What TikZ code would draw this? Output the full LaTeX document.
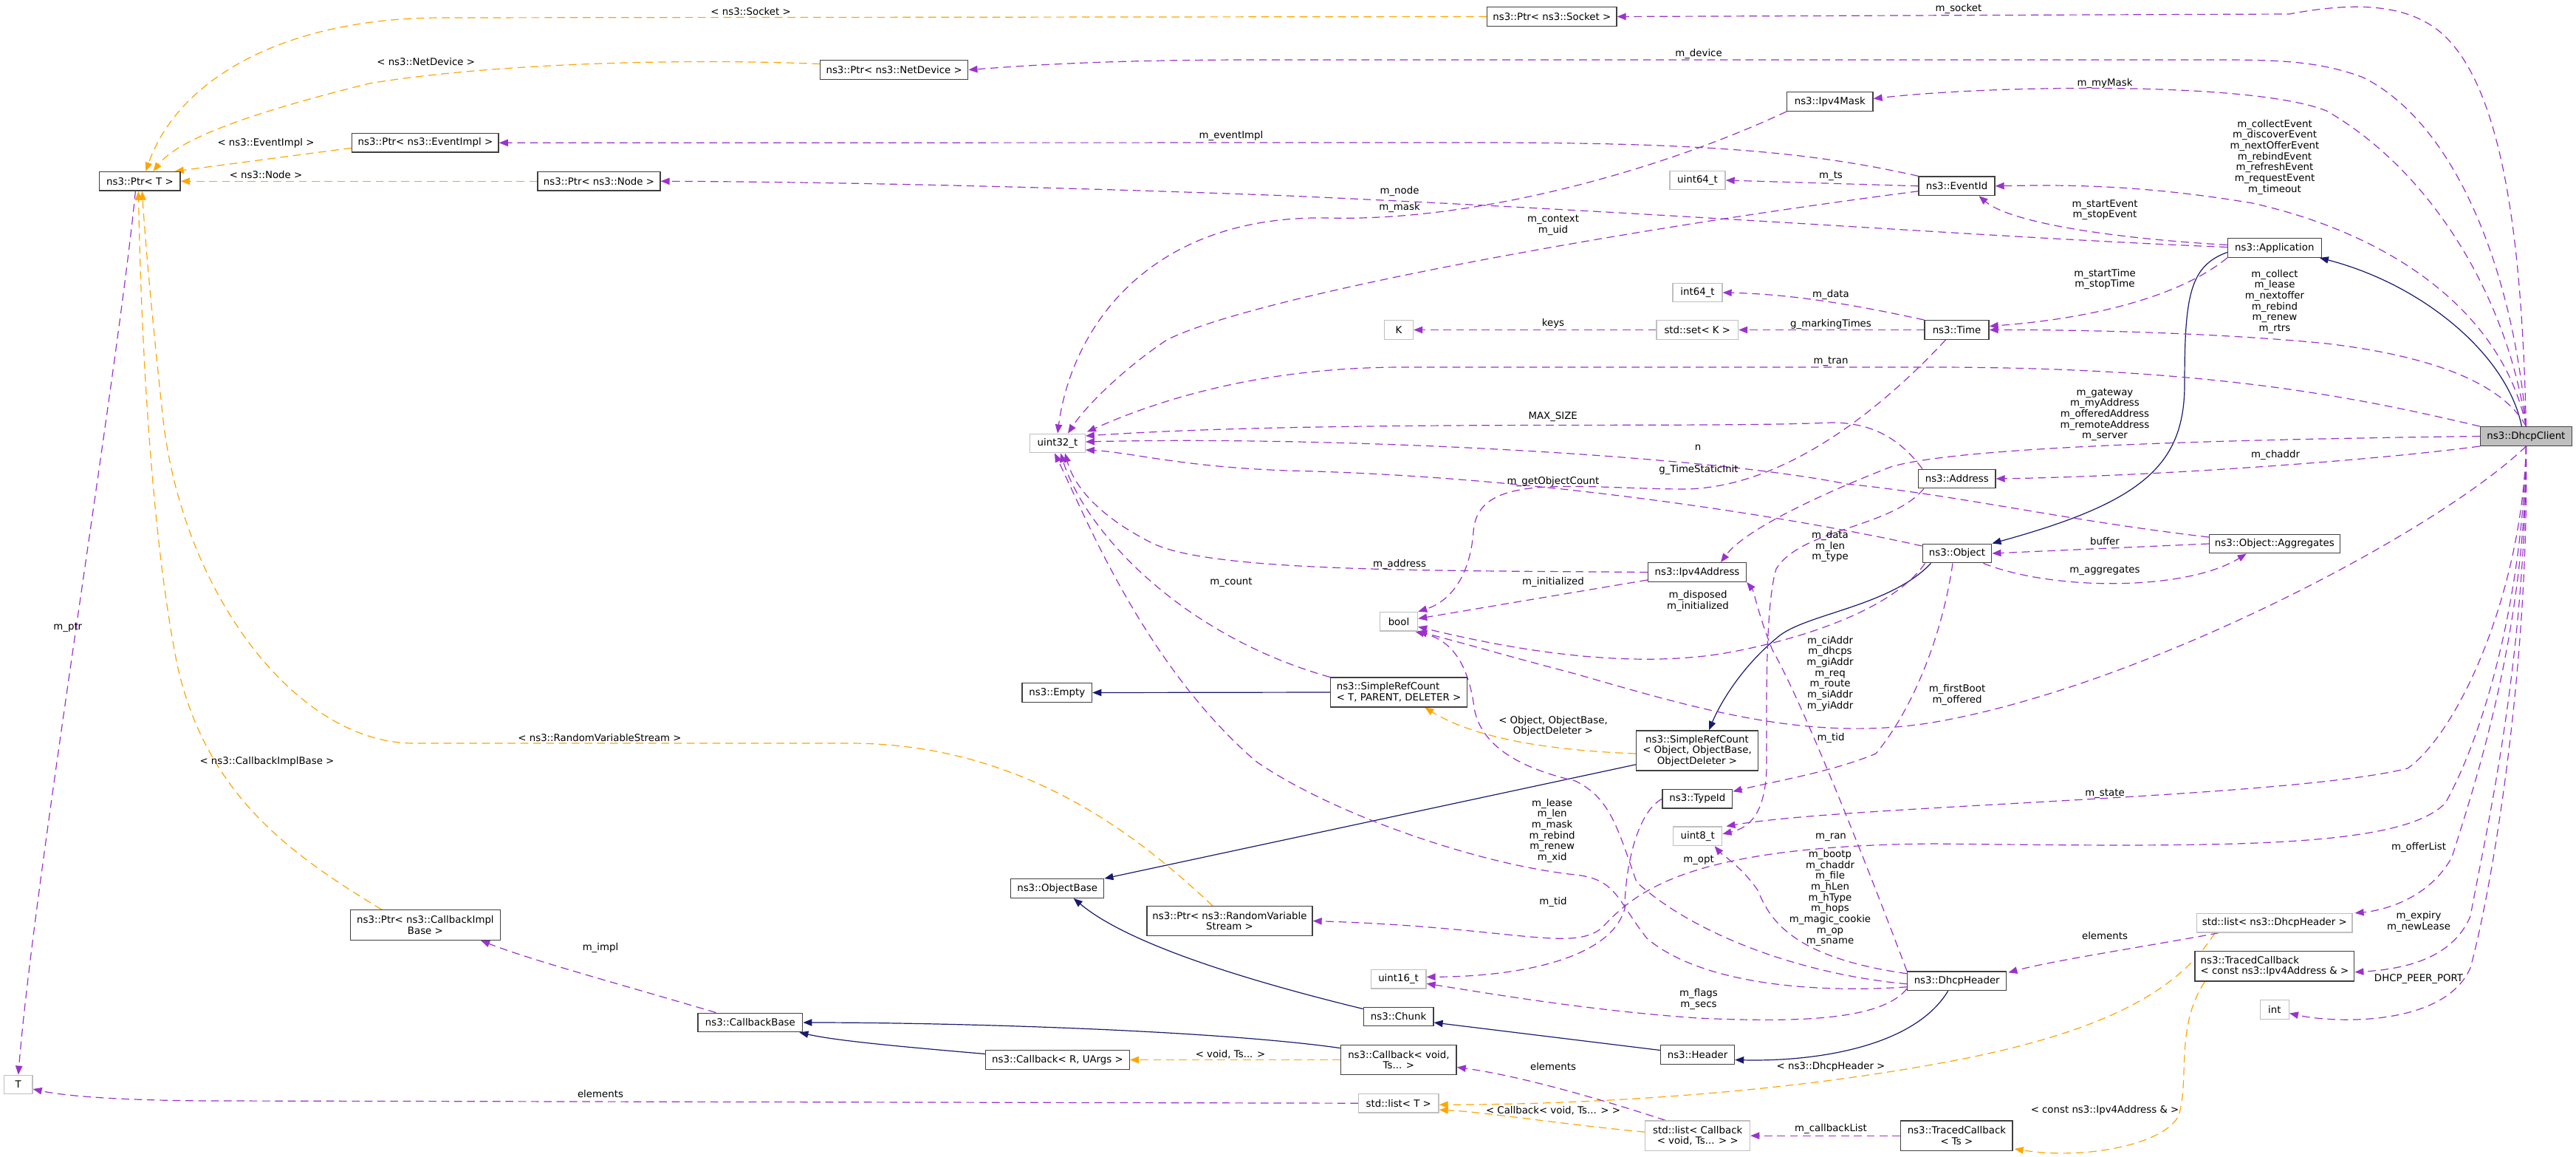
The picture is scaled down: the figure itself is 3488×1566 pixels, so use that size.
\documentclass[tikz,border=0pt]{standalone}
\usepackage{fontspec}
\setmainfont{DejaVu Sans}
\usetikzlibrary{arrows.meta,calc,backgrounds}
\definecolor{usecol}{RGB}{154,50,205}
\definecolor{tplcol}{RGB}{255,165,0}
\definecolor{inhcol}{RGB}{25,25,112}
\definecolor{boxline}{RGB}{64,64,64}
\definecolor{grey75}{RGB}{191,191,191}

\begin{document}
\begin{tikzpicture}[x=0.75pt, y=-0.75pt,
    cls/.style={rectangle, draw=boxline, line width=1pt, fill=white,
        font={\fontsize{10}{11}\selectfont}, minimum height=19.2pt,
        inner xsep=1pt, inner ysep=4.5pt, align=center},
    ext/.style={cls, draw=grey75},
    main/.style={cls, fill=grey75},
    wd/.style={minimum width=#1*0.75pt},
    ht/.style={minimum height=#1*0.75pt},
    lbl/.style={font={\fontsize{10}{11}\selectfont}, inner sep=0pt, align=center},
    uses/.style={-{Triangle[length=9pt,width=7pt]}, usecol, line width=0.9pt,
        dash pattern=on 8pt off 5pt},
    tpl/.style={uses, tplcol},
    inh/.style={-{Triangle[length=9pt,width=7pt]}, inhcol, line width=0.9pt}
]
    \useasboundingbox (0,0) rectangle (3488,1566);

    % classes
    \node[cls, wd=109.5] (ptrT) at (189.4,245.3) {ns3::Ptr< T >};
    \node[cls, wd=198.5] (ptrEventImpl) at (575.9,193.3) {ns3::Ptr< ns3::EventImpl >};
    \node[cls, wd=166] (ptrNode) at (811,245.3) {ns3::Ptr< ns3::Node >};
    \node[cls, wd=200.2] (ptrNetDevice) at (1210.7,94.5) {ns3::Ptr< ns3::NetDevice >};
    \node[cls, wd=175.2] (ptrSocket) at (2101.3,22.5) {ns3::Ptr< ns3::Socket >};
    \node[cls, wd=116.2] (ipv4Mask) at (2477.8,137.5) {ns3::Ipv4Mask};
    \node[ext, wd=75] (uint64) at (2298.5,244) {uint64\_t};
    \node[cls, wd=103] (eventId) at (2649.5,251.8) {ns3::EventId};
    \node[ext, wd=67] (int64) at (2298.5,396) {int64\_t};
    \node[ext, wd=110.5] (setK) at (2298.3,446.5) {std::set< K >};
    \node[ext, wd=39] (paramK) at (1894,446.5) {K};
    \node[cls, wd=87] (time) at (2649.5,446.5) {ns3::Time};
    \node[cls, wd=126.8] (application) at (3079.8,335.5) {ns3::Application};
    \node[ext, wd=74.5] (uint32) at (1432,600) {uint32\_t};
    \node[cls, wd=94.7] (empty) at (1431.3,937.5) {ns3::Empty};
    \node[cls, wd=104.4] (address) at (2649.8,648) {ns3::Address};
    \node[cls, wd=133] (ipv4Address) at (2298,774.5) {ns3::Ipv4Address};
    \node[ext, wd=51] (boolT) at (1894,841.3) {bool};
    \node[cls, wd=93.6] (object) at (2650,749) {ns3::Object};
    \node[cls, wd=185, ht=39.7, align=left] (srcT) at (1894,937) {ns3::SimpleRefCount\\< T, PARENT, DELETER >};
    \node[cls, wd=165, ht=54.3] (srcObj) at (2298,1016) {ns3::SimpleRefCount\\< Object, ObjectBase,\\ObjectDeleter >};
    \node[main, wd=124] (dhcpClient) at (3420.4,590.5) {ns3::DhcpClient};
    \node[cls, wd=176.8] (aggregates) at (3079.8,736) {ns3::Object::Aggregates};
    \node[ext, wd=38.4] (paramT) at (24.8,1468) {T};
    \node[cls, wd=203, ht=40.6] (ptrCBIB) at (575.9,1252) {ns3::Ptr< ns3::CallbackImpl\\Base >};
    \node[cls, wd=126.2] (objectBase) at (1431.7,1202.5) {ns3::ObjectBase};
    \node[cls, wd=224, ht=39.6] (ptrRVS) at (1665,1246.5) {ns3::Ptr< ns3::RandomVariable\\Stream >};
    \node[cls, wd=141.7] (callbackBase) at (1015.9,1384) {ns3::CallbackBase};
    \node[cls, wd=194.6] (callbackRU) at (1432,1434.5) {ns3::Callback< R, UArgs >};
    \node[cls, wd=94.7] (typeId) at (2298.4,1081.3) {ns3::TypeId};
    \node[ext, wd=66.2] (uint8) at (2298.7,1131.8) {uint8\_t};
    \node[ext, wd=74.6] (uint16) at (1893.6,1325.3) {uint16\_t};
    \node[cls, wd=94.6] (chunk) at (1893.6,1376) {ns3::Chunk};
    \node[cls, wd=100] (header) at (2298.5,1427.5) {ns3::Header};
    \node[cls, wd=156.3, ht=40.4] (callbackVoid) at (1893.9,1434.5) {ns3::Callback< void,\\Ts... >};
    \node[ext, wd=108.4] (listT) at (1893.8,1493.2) {std::list< T >};
    \node[ext, wd=141.8, ht=40.3] (listCallback) at (2298.7,1537.2) {std::list< Callback\\< void, Ts... > >};
    \node[cls, wd=134] (dhcpHeader) at (2649.7,1327.8) {ns3::DhcpHeader};
    \node[cls, wd=151.3, ht=40.3] (tracedTs) at (2649.4,1537.2) {ns3::TracedCallback\\< Ts >};
    \node[ext, wd=210.2] (listDhcpHeader) at (3079.8,1249.3) {std::list< ns3::DhcpHeader >};
    \node[cls, wd=215.7, ht=40.3, align=left] (tracedIpv4) at (3079.9,1307.8) {ns3::TracedCallback\\< const ns3::Ipv4Address \& >};
    \node[ext, wd=39] (intT) at (3079.8,1366.5) {int};

    \begin{scope}[on background layer]
    \fill[white] (0,0) rectangle (3488,1566);

    % template arguments
    \draw[tpl] (ptrSocket.west) -- (600,24) .. controls (380,24) and (240,110) .. ($(ptrT.north)+(8,0)$);
    \draw[tpl] ($(ptrNetDevice.west)+(0,-8)$) .. controls (900,78) and (650,88) .. (500,113) .. controls (330,155) and (240,190) .. ($(ptrT.north)+(18,0)$);
    \draw[tpl] ($(ptrEventImpl.west)+(0,7)$) -- ($(ptrT.north east)+(-8,0)$);
    \draw[tpl] (ptrNode.west) -- (ptrT.east);
    \draw[tpl] ($(ptrCBIB.north west)+(43,0)$) .. controls (400,1160) and (280,1080) .. (240,900) .. controls (200,700) and (190,400) .. ($(ptrT.south)+(-2,0)$);
    \draw[tpl] ($(ptrRVS.north)+(-23,0)$) .. controls (1560,1150) and (1400,1006) .. (1150,1006) -- (560,1006) .. controls (400,1006) and (245,800) .. (220,560) .. controls (205,420) and (197,330) .. ($(ptrT.south)+(3,0)$);
    \draw[tpl] (callbackVoid.west) -- (callbackRU.east);
    \draw[tpl] ($(srcObj.west)+(0,4)$) .. controls (2080,1015) and (1990,995) .. ($(srcT.south east)+(-58,0)$);
    \draw[tpl] ($(listDhcpHeader.south west)+(25,0)$) .. controls (2950,1340) and (2850,1400) .. (2616,1441) .. controls (2400,1480) and (2150,1495) .. ($(listT.east)+(0,2)$);
    \draw[tpl] ($(listCallback.west)+(0,-5)$) .. controls (2100,1520) and (2010,1505) .. ($(listT.east)+(0,9)$);
    \draw[tpl] ($(tracedIpv4.south west)+(14,0)$) .. controls (2945,1390) and (2965,1460) .. (2950,1510) .. controls (2930,1550) and (2820,1570) .. ($(tracedTs.south east)+(2,-3)$);

    % inheritance
    \draw[inh] ($(dhcpClient.north)+(-6,0)$) .. controls (3395,480) and (3280,385) .. ($(application.south east)+(-3,0)$);
    \draw[inh] ($(application.west)+(0,6)$) .. controls (2965,360) and (2958,400) .. (2958,520) .. controls (2958,630) and (2900,680) .. (object.north east);
    \draw[inh] ($(object.south west)+(12,0)$) .. controls (2560,820) and (2450,830) .. (2410,860) .. controls (2360,900) and (2330,950) .. ($(srcObj.north)+(16,0)$);
    \draw[inh] (srcT.west) -- (empty.east);
    \draw[inh] ($(srcObj.south west)+(0,-9)$) -- (objectBase.north east);
    \draw[inh] ($(chunk.north west)+(0,3)$) .. controls (1700,1330) and (1530,1280) .. ($(objectBase.south)+(22,0)$);
    \draw[inh] ($(header.west)+(0,-6)$) -- ($(chunk.east)+(0,8)$);
    \draw[inh] ($(dhcpHeader.south)+(-12,0)$) .. controls (2590,1420) and (2450,1437) .. ($(header.east)+(0,7)$);
    \draw[inh] ($(callbackVoid.north west)+(0,5)$) .. controls (1650,1395) and (1300,1384) .. (callbackBase.east);
    \draw[inh] ($(callbackRU.west)+(0,-8)$) .. controls (1200,1415) and (1130,1408) .. ($(callbackBase.south east)+(-5,0)$);

    % members of ns3::DhcpClient
    \draw[uses] (dhcpClient.north) .. controls (3415,330) and (3390,110) .. (3300,40) .. controls (3260,10) and (3200,0) .. (3100,19) -- (ptrSocket.east);
    \draw[uses] (dhcpClient.north) .. controls (3405,380) and (3330,170) .. (3200,105) .. controls (3140,82) and (3080,81) .. (3000,81) -- (1700,81) .. controls (1500,81) and (1400,88) .. (ptrNetDevice.east);
    \draw[uses] (dhcpClient.north) .. controls (3395,400) and (3290,230) .. (3150,150) .. controls (3050,110) and (2700,115) .. ($(ipv4Mask.east)+(0,-4)$);
    \draw[uses] (dhcpClient.north) .. controls (3390,430) and (3250,320) .. (3050,275) .. controls (2900,250) and (2800,250) .. (eventId.east);
    \draw[uses] (dhcpClient.north) .. controls (3395,530) and (3320,485) .. (3150,465) .. controls (3000,450) and (2800,446) .. (time.east);
    \draw[uses] (dhcpClient.north west) .. controls (3200,540) and (3000,497) .. (2616,497) -- (1900,497) .. controls (1700,497) and (1560,545) .. ($(uint32.north east)+(2,-2)$);
    \draw[uses] (dhcpClient.west) .. controls (3000,595) and (2650,605) .. (2560,632) .. controls (2450,675) and (2360,720) .. ($(ipv4Address.north)+(32,0)$);
    \draw[uses] (dhcpClient.south west) .. controls (3200,625) and (2900,645) .. (address.east);
    \draw[uses] (dhcpClient.south) .. controls (3300,720) and (2900,930) .. (2616,978) .. controls (2450,1005) and (2300,960) .. (2133,912) .. controls (2030,885) and (1980,870) .. (boolT.south east);
    \draw[uses] (dhcpClient.south) .. controls (3415,800) and (3330,990) .. (3260,1040) .. controls (3100,1080) and (2500,1090) .. ($(uint8.north east)+(5,0)$);
    \draw[uses] (dhcpClient.south) .. controls (3415,820) and (3360,1000) .. (3311,1087) .. controls (3250,1150) and (3000,1146) .. (2616,1142) .. controls (2300,1145) and (2220,1200) .. (2170,1255) .. controls (2130,1290) and (2050,1255) .. (ptrRVS.east);
    \draw[uses] (dhcpClient.south) .. controls (3420,850) and (3355,1050) .. (3320,1160) .. controls (3290,1215) and (3230,1232) .. ($(listDhcpHeader.north east)+(3,0)$);
    \draw[uses] (dhcpClient.south) .. controls (3420,900) and (3365,1130) .. (3345,1240) .. controls (3320,1300) and (3250,1312) .. ($(tracedIpv4.east)+(0,8)$);
    \draw[uses] (dhcpClient.south) .. controls (3425,900) and (3375,1200) .. (3345,1310) .. controls (3310,1390) and (3160,1385) .. ($(intT.east)+(0,5)$);

    % members of the other classes
    \draw[uses] ($(ptrT.south)+(-6,0)$) .. controls (160,500) and (45,1200) .. (paramT.north);
    \draw[uses] (eventId.north west) .. controls (2450,205) and (2300,193) .. (2000,193) -- (ptrEventImpl.east);
    \draw[uses] ($(application.west)+(0,-1)$) .. controls (2700,322) and (2300,290) .. (1744,265) .. controls (1400,252) and (1100,246) .. (ptrNode.east);
    \draw[uses] (ipv4Mask.south west) .. controls (2250,230) and (2000,300) .. (1800,295) .. controls (1550,290) and (1450,450) .. (uint32.north);
    \draw[uses] (eventId.west) -- (uint64.east);
    \draw[uses] ($(eventId.west)+(0,7)$) .. controls (2200,310) and (1700,400) .. (1580,460) .. controls (1520,500) and (1470,550) .. ($(uint32.north)+(14,0)$);
    \draw[uses] ($(application.west)+(0,-4)$) .. controls (2850,322) and (2720,300) .. ($(eventId.south)+(30,0)$);
    \draw[uses] (application.south west) .. controls (2960,395) and (2850,430) .. ($(time.east)+(0,-5)$);
    \draw[uses] (time.north west) .. controls (2500,410) and (2420,398) .. (int64.east);
    \draw[uses] (time.west) -- (setK.east);
    \draw[uses] (setK.west) -- (paramK.east);
    \draw[uses] ($(time.south)+(-15,0)$) .. controls (2560,540) and (2420,665) .. (2272,662) .. controls (2120,660) and (2000,640) .. (1995,720) .. controls (1990,785) and (1960,815) .. (boolT.north east);
    \draw[uses] ($(address.north west)+(6,0)$) .. controls (2570,590) and (2530,572) .. (2480,572) .. controls (2300,580) and (1800,568) .. ($(uint32.east)+(0,-10)$);
    \draw[uses] ($(aggregates.west)+(0,-9)$) .. controls (2800,705) and (2650,670) .. (2500,655) .. controls (2300,615) and (1800,590) .. ($(uint32.east)+(0,-2)$);
    \draw[uses] ($(object.west)+(0,-10)$) .. controls (2450,705) and (2100,645) .. (1744,637) .. controls (1600,632) and (1530,612) .. ($(uint32.east)+(0,9)$);
    \draw[uses] (ipv4Address.west) .. controls (1950,772) and (1640,775) .. (1560,735) .. controls (1490,700) and (1455,660) .. ($(uint32.south)+(10,0)$);
    \draw[uses] ($(ipv4Address.south west)+(0,-3)$) -- ($(boolT.east)+(0,-4)$);
    \draw[uses] ($(object.south west)+(4,0)$) .. controls (2560,830) and (2420,870) .. (2330,885) .. controls (2200,905) and (2050,880) .. ($(boolT.east)+(0,7)$);
    \draw[uses] ($(address.south west)+(8,0)$) .. controls (2560,715) and (2440,715) .. (2405,770) .. controls (2390,820) and (2392,950) .. (2392,1040) .. controls (2390,1100) and (2370,1120) .. ($(uint8.east)+(0,-3)$);
    \draw[uses] (aggregates.west) -- (object.east);
    \draw[uses] ($(object.south east)+(-12,0)$) .. controls (2780,800) and (2960,800) .. ($(aggregates.south)+(-38,0)$);
    \draw[uses] (srcT.north west) .. controls (1600,860) and (1470,720) .. ($(uint32.south)+(4,0)$);
    \draw[uses] (dhcpHeader.north west) .. controls (2520,1150) and (2440,950) .. (2400,880) .. controls (2380,830) and (2375,800) .. (ipv4Address.south east);
    \draw[uses] ($(object.south)+(-6,0)$) .. controls (2630,860) and (2590,960) .. (2540,1020) .. controls (2480,1045) and (2400,1058) .. ($(typeId.east)+(0,-10)$);
    \draw[uses] ($(dhcpHeader.west)+(0,8)$) .. controls (2450,1345) and (2300,1330) .. (2230,1270) .. controls (2190,1220) and (2190,1190) .. (2133,1184) .. controls (2000,1170) and (1800,1100) .. (1700,1030) .. controls (1550,900) and (1470,700) .. ($(uint32.south)+(-4,0)$);
    \draw[uses] (typeId.west) .. controls (2215,1100) and (2200,1180) .. (2200,1230) .. controls (2180,1300) and (2050,1322) .. ($(uint16.east)+(0,-3)$);
    \draw[uses] ($(dhcpHeader.west)+(0,4)$) .. controls (2450,1320) and (2300,1270) .. (2216,1194) .. controls (2190,1120) and (2180,1080) .. (2133,1057) .. controls (2060,1040) and (2000,1010) .. (1995,950) .. controls (1985,890) and (1960,865) .. ($(boolT.south east)+(-4,0)$);
    \draw[uses] ($(dhcpHeader.west)+(0,-10)$) .. controls (2420,1295) and (2395,1240) .. (2380,1205) .. controls (2360,1175) and (2330,1155) .. ($(uint8.south)+(23,0)$);
    \draw[uses] ($(dhcpHeader.south west)+(0,-3)$) .. controls (2550,1378) and (2450,1385) .. (2300,1378) .. controls (2150,1368) and (2000,1342) .. ($(uint16.east)+(0,6)$);
    \draw[uses] ($(listDhcpHeader.south west)+(30,0)$) .. controls (2900,1282) and (2780,1300) .. ($(dhcpHeader.north east)+(2,2)$);
    \draw[uses] ($(callbackBase.north west)+(25,0)$) .. controls (850,1335) and (720,1300) .. ($(ptrCBIB.south east)+(-27,0)$);
    \draw[uses] (listT.west) -- (300,1490) .. controls (150,1490) and (80,1482) .. ($(paramT.east)+(0,6)$);
    \draw[uses] ($(listCallback.north west)+(28,0)$) .. controls (2150,1482) and (2050,1455) .. ($(callbackVoid.east)+(0,10)$);
    \draw[uses] (tracedTs.west) -- (listCallback.east);
    \end{scope}

    % edge labels
    \node[lbl] (lSocket) at (1016.6,16) {< ns3::Socket >};
    \node[lbl] (lNetDevice) at (576.7,83.3) {< ns3::NetDevice >};
    \node[lbl] (lEventImpl) at (360,194.3) {< ns3::EventImpl >};
    \node[lbl] (lNode) at (360,236.7) {< ns3::Node >};
    \node[lbl] (lEventImplM) at (1667,184.3) {m\_eventImpl};
    \node[lbl] (lSocketM) at (2652,11.7) {m\_socket};
    \node[lbl] (lDevice) at (2300,72.7) {m\_device};
    \node[lbl] (lMyMask) at (2850,112.7) {m\_myMask};
    \node[lbl] (lEvents) at (3080,212.7) {m\_collectEvent\\m\_discoverEvent\\m\_nextOfferEvent\\m\_rebindEvent\\m\_refreshEvent\\m\_requestEvent\\m\_timeout};
    \node[lbl] (lStartEvent) at (2850,284.2) {m\_startEvent\\m\_stopEvent};
    \node[lbl] (lStartTime) at (2850,378) {m\_startTime\\m\_stopTime};
    \node[lbl] (lTimes) at (3080,408.2) {m\_collect\\m\_lease\\m\_nextoffer\\m\_rebind\\m\_renew\\m\_rtrs};
    \node[lbl] (lTs) at (2479,238.7) {m\_ts};
    \node[lbl] (lNodeM) at (1895,259.3) {m\_node};
    \node[lbl] (lMask) at (1895,280.7) {m\_mask};
    \node[lbl] (lContext) at (2103,304.7) {m\_context\\m\_uid};
    \node[lbl] (lTimeData) at (2479,399.3) {m\_data};
    \node[lbl] (lKeys) at (2103,438.3) {keys};
    \node[lbl] (lMarking) at (2479,438.7) {g\_markingTimes};
    \node[lbl] (lTran) at (2479,489) {m\_tran};
    \node[lbl] (lPtr) at (91.8,849.3) {m\_ptr};
    \node[lbl] (lCBIB) at (361.5,1031.3) {< ns3::CallbackImplBase >};
    \node[lbl] (lRVS) at (812,998.7) {< ns3::RandomVariableStream >};
    \node[lbl] (lCount) at (1667,788) {m\_count};
    \node[lbl] (lMaxSize) at (2102.7,563.7) {MAX\_SIZE};
    \node[lbl] (lN) at (2299,605.3) {n};
    \node[lbl] (lStaticInit) at (2300,635.7) {g\_TimeStaticInit};
    \node[lbl] (lObjCount) at (2103,651.7) {m\_getObjectCount};
    \node[lbl] (lAddressM) at (1895,763.7) {m\_address};
    \node[lbl] (lInit) at (2103,787.7) {m\_initialized};
    \node[lbl] (lDisposed) at (2299,813.3) {m\_disposed\\m\_initialized};
    \node[lbl] (lAddrData) at (2478,739.6) {m\_data\\m\_len\\m\_type};
    \node[lbl] (lHdrAddr) at (2478,911.5) {m\_ciAddr\\m\_dhcps\\m\_giAddr\\m\_req\\m\_route\\m\_siAddr\\m\_yiAddr};
    \node[lbl] (lSrcArgs) at (2103,982.8) {< Object, ObjectBase,\\ObjectDeleter >};
    \node[lbl] (lTidObj) at (2479,999.3) {m\_tid};
    \node[lbl] (lGateway) at (2850,561.5) {m\_gateway\\m\_myAddress\\m\_offeredAddress\\m\_remoteAddress\\m\_server};
    \node[lbl] (lChaddr) at (3081,616) {m\_chaddr};
    \node[lbl] (lBuffer) at (2850,732.3) {buffer};
    \node[lbl] (lAggr) at (2850,772) {m\_aggregates};
    \node[lbl] (lFirstBoot) at (2650,940.2) {m\_firstBoot\\m\_offered};
    \node[lbl] (lImpl) at (813,1282.7) {m\_impl};
    \node[lbl] (lElemT) at (813,1480.7) {elements};
    \node[lbl] (lVoidTs) at (1666,1426.7) {< void, Ts... >};
    \node[lbl] (lHdrInt) at (2101.6,1124.2) {m\_lease\\m\_len\\m\_mask\\m\_rebind\\m\_renew\\m\_xid};
    \node[lbl] (lTidType) at (2103,1220.7) {m\_tid};
    \node[lbl] (lOpt) at (2300,1164) {m\_opt};
    \node[lbl] (lRan) at (2479,1133) {m\_ran};
    \node[lbl] (lHdrByte) at (2478,1215.7) {m\_bootp\\m\_chaddr\\m\_file\\m\_hLen\\m\_hType\\m\_hops\\m\_magic\_cookie\\m\_op\\m\_sname};
    \node[lbl] (lFlags) at (2300,1352.2) {m\_flags\\m\_secs};
    \node[lbl] (lElemCb) at (2103,1443.3) {elements};
    \node[lbl] (lDhcpHdr) at (2479,1444) {< ns3::DhcpHeader >};
    \node[lbl] (lCbArgs) at (2103,1503.3) {< Callback< void, Ts... > >};
    \node[lbl] (lCbList) at (2479,1528.3) {m\_callbackList};
    \node[lbl] (lState) at (2850,1074.7) {m\_state};
    \node[lbl] (lOfferList) at (3275,1146.7) {m\_offerList};
    \node[lbl] (lElemHdr) at (2850,1266.7) {elements};
    \node[lbl] (lExpiry) at (3275,1247.3) {m\_expiry\\m\_newLease};
    \node[lbl] (lPeerPort) at (3275,1324.7) {DHCP\_PEER\_PORT};
    \node[lbl] (lIpv4Ref) at (2850,1503.3) {< const ns3::Ipv4Address \& >};
\end{tikzpicture}
\end{document}
